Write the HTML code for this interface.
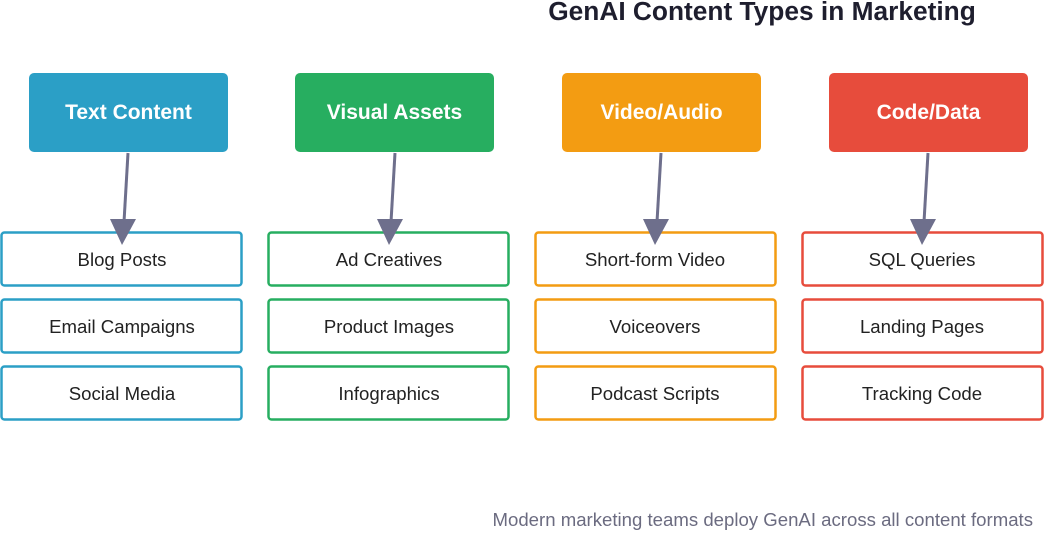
<!DOCTYPE html>
<html><head><meta charset="utf-8"><style>
body{margin:0;background:#fff;width:1044px;height:530px;overflow:hidden;font-family:"Liberation Sans",sans-serif}
</style></head><body>
<svg width="1044" height="530" xmlns="http://www.w3.org/2000/svg" font-family="Liberation Sans, sans-serif">
<text x="762" y="20" text-anchor="middle" font-size="26.3" font-weight="bold" fill="#1e1e2e">GenAI Content Types in Marketing</text>
<!-- headers -->
<rect x="29" y="73" width="199" height="79" rx="5" fill="#2b9fc6"/>
<text x="128.5" y="119" text-anchor="middle" font-size="21" font-weight="bold" fill="#fff">Text Content</text>
<rect x="295" y="73" width="199" height="79" rx="5" fill="#27ae60"/>
<text x="394.5" y="119" text-anchor="middle" font-size="21" font-weight="bold" fill="#fff">Visual Assets</text>
<rect x="562" y="73" width="199" height="79" rx="5" fill="#f39c12"/>
<text x="661.5" y="119" text-anchor="middle" font-size="21" font-weight="bold" fill="#fff">Video/Audio</text>
<rect x="829" y="73" width="199" height="79" rx="5" fill="#e74c3c"/>
<text x="928.5" y="119" text-anchor="middle" font-size="21" font-weight="bold" fill="#fff">Code/Data</text>
<!-- children -->
<g fill="#fff" stroke-width="2.5">
<g stroke="#2b9fc6"><rect x="1.5" y="232.5" width="240" height="53" rx="3"/><rect x="1.5" y="299.5" width="240" height="53" rx="3"/><rect x="1.5" y="366.5" width="240" height="53" rx="3"/></g>
<g stroke="#27ae60"><rect x="268.5" y="232.5" width="240" height="53" rx="3"/><rect x="268.5" y="299.5" width="240" height="53" rx="3"/><rect x="268.5" y="366.5" width="240" height="53" rx="3"/></g>
<g stroke="#f39c12"><rect x="535.5" y="232.5" width="240" height="53" rx="3"/><rect x="535.5" y="299.5" width="240" height="53" rx="3"/><rect x="535.5" y="366.5" width="240" height="53" rx="3"/></g>
<g stroke="#e74c3c"><rect x="802.5" y="232.5" width="240" height="53" rx="3"/><rect x="802.5" y="299.5" width="240" height="53" rx="3"/><rect x="802.5" y="366.5" width="240" height="53" rx="3"/></g>
</g>
<g font-size="18.6" fill="#222" text-anchor="middle">
<text x="122" y="266">Blog Posts</text><text x="122" y="333">Email Campaigns</text><text x="122" y="400">Social Media</text>
<text x="389" y="266">Ad Creatives</text><text x="389" y="333">Product Images</text><text x="389" y="400">Infographics</text>
<text x="655" y="266">Short-form Video</text><text x="655" y="333">Voiceovers</text><text x="655" y="400">Podcast Scripts</text>
<text x="922" y="266">SQL Queries</text><text x="922" y="333">Landing Pages</text><text x="922" y="400">Tracking Code</text>
</g>
<!-- arrows on top -->
<g stroke="#6e6f8c" stroke-width="3">
<line x1="128" y1="153" x2="124" y2="222"/><line x1="395" y1="153" x2="391" y2="222"/><line x1="661" y1="153" x2="657" y2="222"/><line x1="928" y1="153" x2="924" y2="222"/>
</g>
<g fill="#6e6f8c">
<polygon points="110,219 136,219 122,245"/><polygon points="377,219 403,219 389,245"/><polygon points="643,219 669,219 655,245"/><polygon points="910,219 936,219 922,245"/>
</g>
<text x="1033" y="526" text-anchor="end" font-size="18.6" fill="#6b6b80">Modern marketing teams deploy GenAI across all content formats</text>
</svg>
</body></html>
